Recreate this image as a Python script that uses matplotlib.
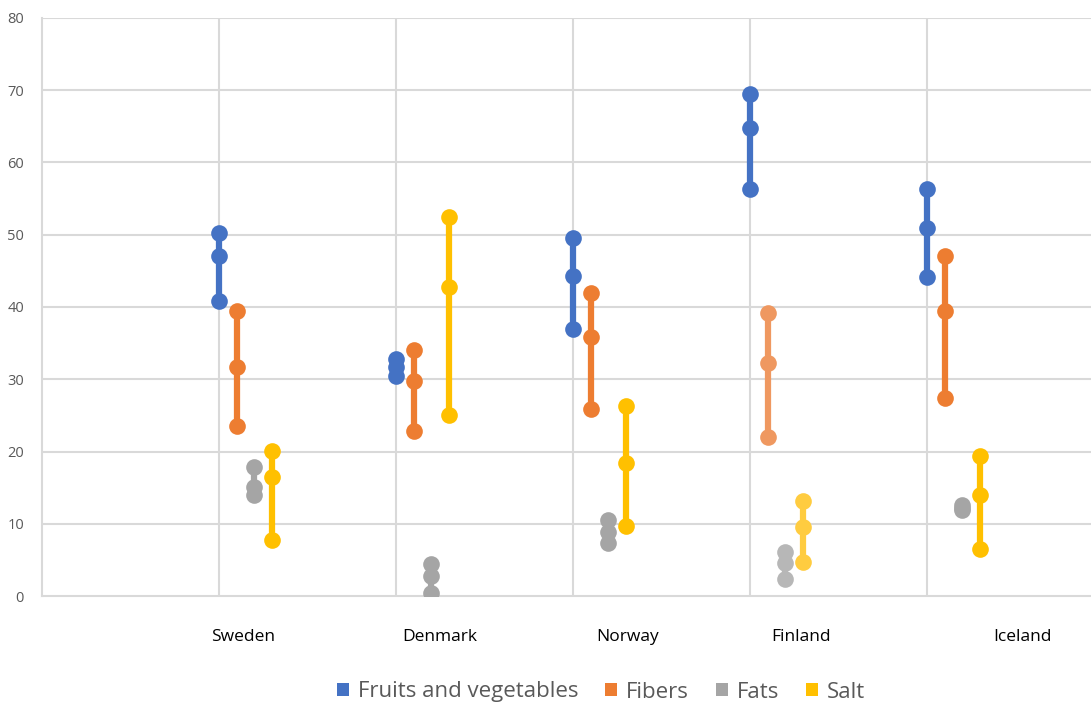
import matplotlib
matplotlib.use("Agg")
import matplotlib.pyplot as plt
from matplotlib.patches import Patch

countries = ["Sweden", "Denmark", "Norway", "Finland", "Iceland"]
series_names = ["Fruits and vegetables", "Fibers", "Fats", "Salt"]

fruits = [[50.2, 47.1, 40.8], [32.8, 31.7, 30.4], [49.6, 44.3, 37.0], [69.5, 64.8, 56.3], [56.4, 51.0, 44.2]]
fibers = [[39.4, 31.7, 23.5], [34.0, 29.7, 22.9], [41.9, 35.8, 25.9], [39.2, 32.2, 22.0], [47.1, 39.4, 27.4]]
fats = [[17.9, 15.1, 14.0], [4.4, 2.7, 0.4], [10.5, 8.9, 7.4], [6.1, 4.5, 2.4], [12.6, 12.2, 11.9]]
salt = [[20.1, 16.5, 7.7], [52.5, 42.7, 25.0], [26.3, 18.4, 9.7], [13.1, 9.5, 4.7], [19.4, 14.0, 6.5]]
yticks = [0, 10, 20, 30, 40, 50, 60, 70, 80]

colors = ["#4472C4", "#ED7D31", "#A5A5A5", "#FFC000"]
light_colors = ["#4472C4", "#EF9860", "#B7B7B7", "#FFCC40"]
offsets = [0.0, 0.1, 0.2, 0.3]
label_x = [1.136, 2.25, 3.31, 4.29, 5.54]

fig = plt.figure(figsize=(10.91, 7.02), dpi=100)
ax = fig.add_axes([42 / 1091, 106 / 702, 1 - 42 / 1091, 578 / 702])
ax.set_xlim(0, (1091 - 42) / 177)
ax.set_ylim(0, 80)

for x in range(1, 6):
    ax.axvline(x, color="#D9D9D9", lw=1.5, zorder=0)
for y in yticks[1:]:
    ax.axhline(y, color="#D9D9D9", lw=1.5, zorder=0)

all_series = [fruits, fibers, fats, salt]
for si, data in enumerate(all_series):
    for ci, vals in enumerate(data):
        x = ci + 1 + offsets[si]
        c = light_colors[si] if countries[ci] == "Finland" else colors[si]
        ax.plot([x, x], [min(vals), max(vals)], color=c, lw=4.5, solid_capstyle="butt", zorder=2)
        ax.plot([x] * len(vals), vals, "o", color=c, ms=12, mec="none", zorder=3)

for s in ["top", "right"]:
    ax.spines[s].set_visible(False)
for s in ["left", "bottom"]:
    ax.spines[s].set_color("#D9D9D9")
    ax.spines[s].set_linewidth(1.5)

ax.set_yticks(yticks)
ax.set_yticklabels([str(t) for t in yticks], fontsize=10.5, color="#595959", family="Open Sans")
ax.tick_params(axis="y", length=0, pad=13)
ax.set_xticks([])

for lx, name in zip(label_x, countries):
    ax.text(lx, -5.7, name, ha="center", va="center", fontsize=12.5, color="black",
            family="Open Sans", transform=ax.transData, clip_on=False)

handles = [Patch(facecolor=c, edgecolor="none") for c in colors]
leg = fig.legend(handles, series_names, loc="center", bbox_to_anchor=(601 / 1091, 1 - 692 / 702),
                 ncol=4, frameon=False, fontsize=16, handlelength=0.55, handleheight=0.55,
                 handletextpad=0.4, columnspacing=1.2, borderpad=0)
for t in leg.get_texts():
    t.set_color("#595959")
    t.set_family("Open Sans")

fig.savefig("out.png", dpi=100)
